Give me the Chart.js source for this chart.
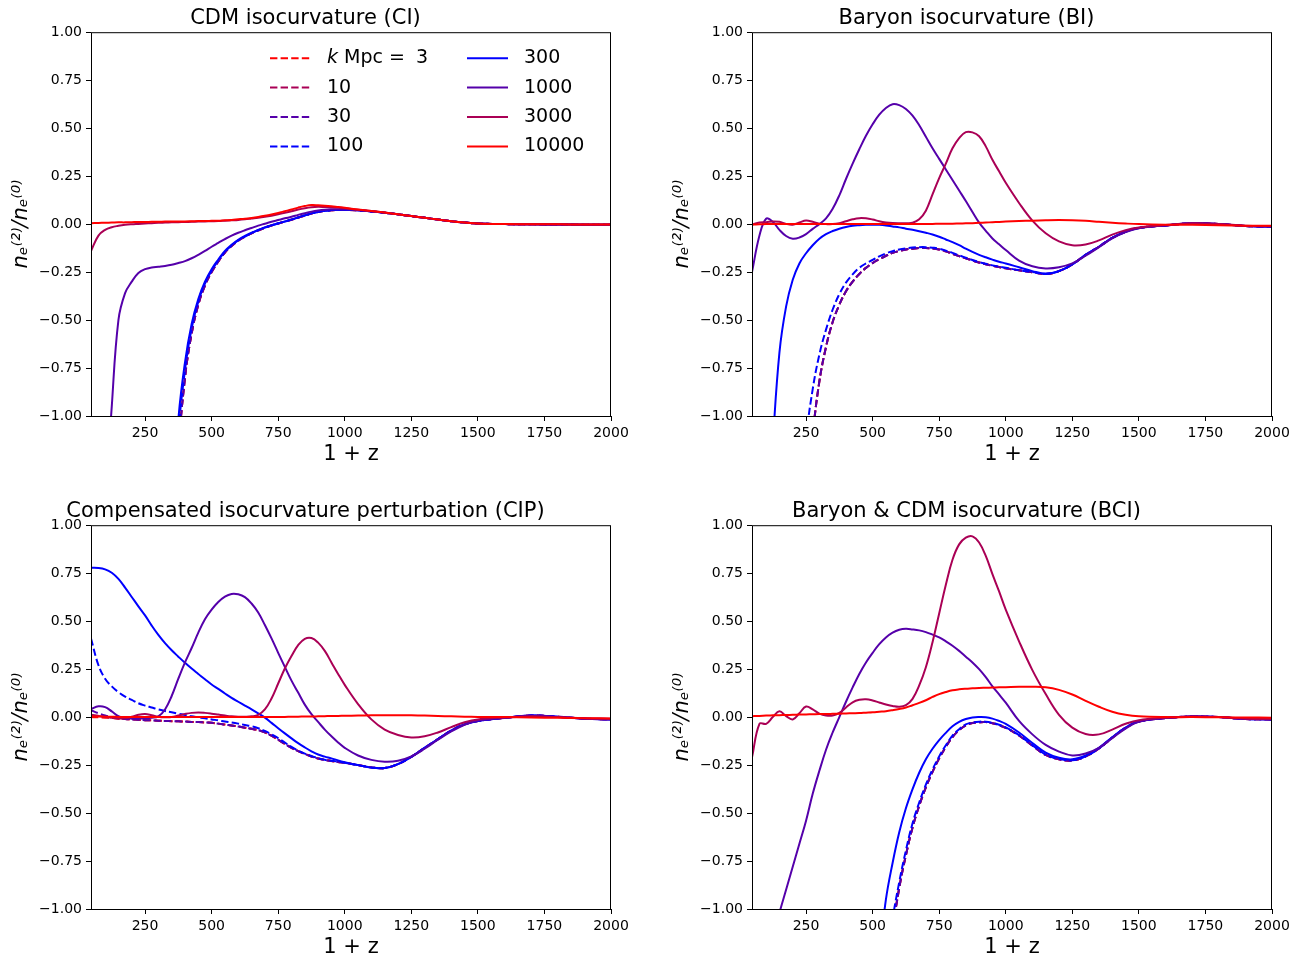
<!DOCTYPE html>
<html>
<head>
<meta charset="utf-8">
<script src="https://cdn.jsdelivr.net/npm/chart.js@4.4.1/dist/chart.umd.min.js"></script>
<style>
  html, body { margin: 0; padding: 0; background: #fff; overflow: hidden; }
  canvas { position: absolute; }
</style>
</head>
<body>
<canvas id="ci" width="640" height="493" style="left:0;top:0"></canvas>
<canvas id="bi" width="640" height="493" style="left:661px;top:0"></canvas>
<canvas id="cip" width="640" height="493" style="left:0;top:493px"></canvas>
<canvas id="bci" width="640" height="493" style="left:661px;top:493px"></canvas>
<script>
// 1+z sample points shared by every curve
const Z = [47,75,100,125,150,175,200,225,250,275,300,325,350,375,400,425,450,475,500,525,550,575,600,625,650,675,700,725,750,
  775,800,825,850,875,900,925,950,975,1000,
  1050,1100,1150,1200,1250,1300,1350,1400,1450,1500,
  1600,1700,1800,1900,2000];

const K_VALUES = ['3', '10', '30', '100', '300', '1000', '3000', '10000'];
const X_TICKS = [250, 500, 750, 1000, 1250, 1500, 1750, 2000];
const Y_TICKS = [-1, -0.75, -0.5, -0.25, 0, 0.25, 0.5, 0.75, 1];

// ---- CDM isocurvature (CI)
const CI_K3 = [null,null,null,null,null,null,null,null,null,null,null,null,-2.0,-1.2,-0.8,-0.57,-0.42,-0.32,-0.25,-0.195,-0.148,-0.114,-0.087,-0.066,-0.048,-0.033,-0.019,-0.007,0.003,
  0.013,0.023,0.034,0.045,0.055,0.063,0.069,0.072,0.074,0.074,
  0.072,0.066,0.059,0.051,0.042,0.033,0.024,0.015,0.008,0.003,
  0.0,-0.001,-0.002,-0.003,-0.003];
const CI_K10 = CI_K3;
const CI_K30 = CI_K3;
const CI_K100 = [null,null,null,null,null,null,null,null,null,null,null,null,-1.8,-1.1,-0.76,-0.545,-0.405,-0.31,-0.243,-0.19,-0.144,-0.111,-0.085,-0.065,-0.047,-0.032,-0.018,-0.007,0.003,
  0.013,0.023,0.034,0.045,0.055,0.063,0.069,0.072,0.074,0.074,
  0.072,0.066,0.059,0.051,0.042,0.033,0.024,0.015,0.008,0.003,
  0.0,-0.001,-0.002,-0.003,-0.003];
const CI_K300 = [null,null,null,null,null,null,null,null,null,null,null,-2.5,-1.6,-1.02,-0.72,-0.52,-0.39,-0.3,-0.235,-0.185,-0.14,-0.108,-0.082,-0.062,-0.045,-0.03,-0.017,-0.006,0.004,
  0.014,0.024,0.035,0.046,0.056,0.064,0.07,0.073,0.075,0.075,
  0.072,0.066,0.059,0.051,0.042,0.033,0.024,0.015,0.008,0.003,
  0.0,-0.001,-0.002,-0.003,-0.003];
const CI_K1000 = [null,-2.6,-1.5,-0.95,-0.5,-0.36,-0.3,-0.255,-0.235,-0.226,-0.222,-0.218,-0.212,-0.203,-0.193,-0.178,-0.16,-0.14,-0.118,-0.098,-0.078,-0.06,-0.045,-0.032,-0.02,-0.008,0.002,0.012,0.021,
  0.03,0.038,0.048,0.057,0.065,0.071,0.075,0.077,0.078,0.077,
  0.072,0.066,0.059,0.051,0.042,0.033,0.024,0.015,0.008,0.003,
  0.0,-0.001,-0.002,-0.003,-0.003];
const CI_K3000 = [-0.14,-0.06,-0.03,-0.016,-0.009,-0.004,-0.001,0.001,0.003,0.005,0.007,0.008,0.009,0.010,0.011,0.012,0.013,0.014,0.015,0.016,0.018,0.020,0.022,0.025,0.029,0.033,0.038,0.044,0.051,
  0.059,0.067,0.076,0.083,0.088,0.090,0.089,0.088,0.086,0.083,
  0.075,0.068,0.060,0.051,0.042,0.033,0.024,0.015,0.008,0.003,
  0.0,-0.001,-0.001,-0.002,-0.002];
const CI_K10000 = [0.005,0.006,0.007,0.008,0.009,0.009,0.010,0.011,0.011,0.012,0.012,0.013,0.013,0.014,0.014,0.015,0.016,0.016,0.017,0.018,0.020,0.022,0.025,0.028,0.032,0.037,0.043,0.050,0.058,
  0.067,0.076,0.086,0.094,0.099,0.098,0.096,0.093,0.089,0.085,
  0.076,0.068,0.060,0.051,0.042,0.033,0.024,0.015,0.008,0.003,
  0.0,-0.001,-0.001,-0.002,-0.002];

// ---- Baryon isocurvature (BI)
const BI_K3 = [null,null,null,null,null,null,null,-2.0,-1.5,-1.1,-0.82,-0.64,-0.51,-0.42,-0.35,-0.3,-0.26,-0.228,-0.203,-0.183,-0.165,-0.15,-0.14,-0.132,-0.128,-0.125,-0.125,-0.127,-0.132,
  -0.142,-0.155,-0.167,-0.178,-0.19,-0.2,-0.209,-0.217,-0.224,-0.23,
  -0.241,-0.251,-0.26,-0.245,-0.21,-0.16,-0.118,-0.072,-0.04,-0.02,
  -0.007,0.004,0.0,-0.01,-0.013];
const BI_K10 = BI_K3;
const BI_K30 = BI_K3;
const BI_K100 = [null,null,null,null,null,null,null,-1.6,-1.12,-0.86,-0.68,-0.55,-0.445,-0.365,-0.305,-0.262,-0.228,-0.205,-0.187,-0.168,-0.153,-0.141,-0.132,-0.126,-0.122,-0.12,-0.12,-0.123,-0.128,
  -0.138,-0.15,-0.163,-0.175,-0.187,-0.198,-0.207,-0.215,-0.222,-0.228,
  -0.24,-0.25,-0.26,-0.245,-0.21,-0.16,-0.118,-0.072,-0.04,-0.02,
  -0.007,0.004,0.0,-0.01,-0.013];
const BI_K300 = [null,null,-1.8,-1.15,-0.67,-0.43,-0.29,-0.205,-0.152,-0.11,-0.076,-0.052,-0.036,-0.024,-0.015,-0.009,-0.006,-0.004,-0.003,-0.004,-0.007,-0.012,-0.017,-0.024,-0.03,-0.037,-0.045,-0.054,-0.066,
  -0.08,-0.094,-0.11,-0.128,-0.145,-0.16,-0.173,-0.185,-0.196,-0.205,
  -0.225,-0.245,-0.258,-0.245,-0.21,-0.16,-0.118,-0.072,-0.04,-0.02,
  -0.007,0.004,0.0,-0.01,-0.013];
const BI_K1000 = [-0.25,-0.06,0.028,0.012,-0.03,-0.062,-0.076,-0.07,-0.052,-0.025,0.0,0.03,0.08,0.15,0.235,0.315,0.39,0.46,0.52,0.57,0.605,0.625,0.62,0.6,0.565,0.515,0.455,0.395,0.34,
  0.285,0.23,0.175,0.12,0.063,0.008,-0.035,-0.075,-0.105,-0.135,
  -0.19,-0.22,-0.231,-0.225,-0.205,-0.165,-0.12,-0.075,-0.042,-0.022,
  -0.007,0.004,0.0,-0.01,-0.013];
const BI_K3000 = [-0.002,0.008,0.010,0.014,0.012,0.001,-0.003,0.008,0.019,0.012,0.002,0.0,0.0,0.005,0.015,0.025,0.031,0.030,0.024,0.015,0.009,0.006,0.005,0.005,0.007,0.025,0.07,0.155,0.24,
  0.315,0.395,0.448,0.479,0.478,0.458,0.405,0.335,0.275,0.215,
  0.11,0.018,-0.048,-0.09,-0.11,-0.106,-0.085,-0.055,-0.032,-0.018,
  -0.005,0.004,0.001,-0.008,-0.01];
const BI_K10000 = [-0.002,-0.001,0,0,0,0,0,0,0,0,0,0,0,0,0,0,0,0,0,0,0,0,0,0,0.001,0.001,0.001,0.001,0.002,
  0.002,0.002,0.003,0.004,0.005,0.007,0.008,0.010,0.011,0.013,
  0.016,0.018,0.020,0.021,0.020,0.017,0.012,0.007,0.003,0.0,
  -0.003,-0.004,-0.006,-0.008,-0.009];

// ---- Compensated isocurvature perturbation (CIP)
const CIP_K3 = [0.0,-0.001,-0.003,-0.005,-0.008,-0.01,-0.012,-0.014,-0.016,-0.017,-0.019,-0.02,-0.021,-0.022,-0.023,-0.025,-0.026,-0.028,-0.03,-0.034,-0.039,-0.044,-0.049,-0.055,-0.061,-0.068,-0.08,-0.097,-0.118,
  -0.14,-0.16,-0.177,-0.192,-0.205,-0.216,-0.223,-0.229,-0.234,-0.238,
  -0.25,-0.262,-0.265,-0.245,-0.207,-0.16,-0.115,-0.07,-0.038,-0.02,
  -0.004,0.008,0.002,-0.008,-0.012];
const CIP_K10 = [0.012,0.007,0.002,-0.003,-0.007].concat(CIP_K3.slice(5));
const CIP_K30 = [0.036,0.02,0.008,0.0,-0.005].concat(CIP_K3.slice(5));
const CIP_K100 = [0.41,0.27,0.2,0.16,0.13,0.107,0.09,0.072,0.06,0.05,0.04,0.032,0.025,0.018,0.011,0.004,-0.001,-0.006,-0.012,-0.017,-0.023,-0.028,-0.034,-0.041,-0.048,-0.058,-0.072,-0.09,-0.11,
  -0.133,-0.155,-0.174,-0.19,-0.203,-0.214,-0.222,-0.227,-0.232,-0.238,
  -0.25,-0.262,-0.265,-0.245,-0.207,-0.16,-0.115,-0.07,-0.038,-0.02,
  -0.004,0.008,0.002,-0.008,-0.012];
const CIP_K300 = [0.778,0.777,0.77,0.752,0.72,0.675,0.626,0.577,0.53,0.477,0.428,0.385,0.348,0.315,0.283,0.253,0.225,0.197,0.17,0.147,0.123,0.1,0.08,0.06,0.04,0.019,-0.003,-0.03,-0.058,
  -0.085,-0.111,-0.136,-0.158,-0.178,-0.195,-0.206,-0.215,-0.226,-0.235,
  -0.25,-0.264,-0.265,-0.245,-0.207,-0.16,-0.115,-0.07,-0.038,-0.02,
  -0.004,0.008,0.002,-0.008,-0.012];
const CIP_K1000 = [0.042,0.056,0.052,0.03,0.005,-0.005,-0.008,-0.008,-0.007,-0.004,0.004,0.04,0.11,0.2,0.285,0.36,0.44,0.51,0.56,0.6,0.628,0.642,0.64,0.625,0.592,0.545,0.48,0.41,0.335,
  0.262,0.19,0.128,0.065,0.015,-0.025,-0.065,-0.1,-0.132,-0.16,
  -0.2,-0.223,-0.233,-0.228,-0.205,-0.165,-0.118,-0.075,-0.04,-0.018,
  -0.004,0.005,0.0,-0.008,-0.012];
const CIP_K3000 = [0.005,0.006,0.0,-0.004,-0.007,-0.006,0.002,0.012,0.016,0.01,0.002,-0.001,0.0,0.008,0.016,0.022,0.024,0.022,0.018,0.013,0.008,0.004,0.002,0.002,0.004,0.012,0.04,0.097,0.175,
  0.253,0.318,0.375,0.408,0.412,0.388,0.345,0.285,0.225,0.168,
  0.068,-0.012,-0.065,-0.093,-0.106,-0.1,-0.08,-0.052,-0.027,-0.012,
  -0.002,0.004,0.0,-0.006,-0.008];
const CIP_K10000 = [0.004,0.003,0.002,0.002,0.001,0.001,0.001,0.001,0.001,0.001,0.001,0.001,0.001,0.001,0.001,0.001,0.001,0.001,0.001,0.001,0.001,0.0,0.0,0.0,0.0,0.0,0.0,0.0,0.001,
  0.001,0.002,0.002,0.003,0.003,0.004,0.005,0.006,0.006,0.007,
  0.008,0.009,0.01,0.01,0.009,0.008,0.006,0.004,0.002,0.001,
  0.0,-0.002,-0.004,-0.006,-0.007];

// ---- Baryon & CDM isocurvature (BCI)
const BCI_K3 = [null,null,null,null,null,null,null,null,null,null,null,null,null,null,null,null,null,null,null,-2.2,-1.5,-1.12,-0.89,-0.72,-0.575,-0.462,-0.366,-0.285,-0.215,
  -0.155,-0.104,-0.068,-0.043,-0.031,-0.027,-0.026,-0.032,-0.042,-0.056,
  -0.096,-0.148,-0.197,-0.22,-0.226,-0.205,-0.163,-0.107,-0.056,-0.023,
  -0.005,0.003,0.0,-0.01,-0.012];
const BCI_K10 = BCI_K3;
const BCI_K30 = BCI_K3;
const BCI_K100 = [null,null,null,null,null,null,null,null,null,null,null,null,null,null,null,null,null,null,null,-2.0,-1.4,-1.06,-0.86,-0.695,-0.553,-0.445,-0.352,-0.273,-0.205,
  -0.147,-0.097,-0.063,-0.038,-0.028,-0.024,-0.024,-0.03,-0.04,-0.054,
  -0.094,-0.146,-0.195,-0.218,-0.225,-0.205,-0.163,-0.107,-0.056,-0.023,
  -0.005,0.003,0.0,-0.01,-0.012];
const BCI_K300 = [null,null,null,null,null,null,null,null,null,null,null,null,null,null,null,null,null,null,-1.6,-1.25,-0.95,-0.76,-0.6,-0.475,-0.375,-0.29,-0.22,-0.165,-0.12,
  -0.082,-0.048,-0.025,-0.01,-0.002,0.0,-0.001,-0.008,-0.02,-0.035,
  -0.08,-0.135,-0.185,-0.212,-0.22,-0.2,-0.16,-0.105,-0.055,-0.022,
  -0.005,0.003,0.0,-0.01,-0.012];
const BCI_K1000 = [-1.6,-1.45,-1.3,-1.15,-1.02,-0.9,-0.78,-0.66,-0.54,-0.4,-0.28,-0.17,-0.08,0.0,0.08,0.155,0.225,0.285,0.335,0.38,0.415,0.44,0.455,0.46,0.457,0.452,0.443,0.43,0.415,
  0.395,0.372,0.345,0.315,0.285,0.25,0.208,0.16,0.118,0.075,
  -0.02,-0.09,-0.145,-0.18,-0.2,-0.19,-0.16,-0.11,-0.06,-0.025,
  -0.005,0.003,0.0,-0.008,-0.012];
const BCI_K3000 = [-0.21,-0.035,-0.035,0.0,0.03,0.005,-0.012,0.02,0.055,0.04,0.018,0.008,0.008,0.022,0.05,0.077,0.09,0.093,0.087,0.076,0.066,0.058,0.054,0.062,0.095,0.165,0.26,0.39,0.54,
  0.69,0.82,0.9,0.935,0.942,0.91,0.84,0.745,0.655,0.56,
  0.395,0.245,0.12,0.012,-0.055,-0.088,-0.09,-0.065,-0.035,-0.016,
  -0.004,0.003,0.0,-0.008,-0.01];
const BCI_K10000 = [0.005,0.006,0.008,0.009,0.01,0.011,0.012,0.013,0.014,0.015,0.016,0.016,0.017,0.018,0.019,0.02,0.021,0.023,0.025,0.028,0.031,0.036,0.042,0.05,0.062,0.074,0.088,0.105,0.12,
  0.131,0.14,0.145,0.148,0.15,0.152,0.153,0.154,0.155,0.156,
  0.158,0.158,0.155,0.142,0.118,0.085,0.054,0.028,0.012,0.004,
  0.0,0.0,-0.001,-0.002,-0.003];

const FONT = 'DejaVu Sans';
const LINE_COLORS = ['#ff0000', '#aa0055', '#5500aa', '#0000ff', '#0000ff', '#5500aa', '#aa0055', '#ff0000'];
const DASH = [7.4, 3.2];

Chart.defaults.font.family = FONT;
Chart.defaults.color = '#000';

// full box round the axes, like matplotlib spines
const framePlugin = {
  id: 'frame',
  afterDraw(chart) {
    const { ctx, chartArea: a } = chart;
    ctx.save();
    ctx.strokeStyle = '#000';
    ctx.lineWidth = 1;
    ctx.strokeRect(a.left + 0.5, a.top + 0.5, a.right - a.left - 1, a.bottom - a.top);
    ctx.restore();
  }
};

// two-column legend inside the first panel
const legendPlugin = {
  id: 'kLegend',
  afterDraw(chart) {
    const { ctx, chartArea: a } = chart;
    ctx.save();
    chart.data.datasets.forEach((ds, i) => {
      const col = Math.floor(i / 4), row = i % 4;
      const y = a.top + 26 + row * 29.4;
      const x0 = a.left + (col ? 376 : 179);
      ctx.strokeStyle = ds.borderColor;
      ctx.lineWidth = 2;
      ctx.setLineDash(ds.borderDash);
      ctx.beginPath();
      ctx.moveTo(x0, y);
      ctx.lineTo(x0 + 41, y);
      ctx.stroke();
      ctx.setLineDash([]);
      ctx.fillStyle = '#000';
      ctx.textBaseline = 'middle';
      ctx.textAlign = 'left';
      let tx = x0 + 57;
      if (i === 0) {
        ctx.font = 'italic 19px "' + FONT + '"';
        ctx.fillText('k', tx, y);
        tx += ctx.measureText('k').width;
        ctx.font = '19px "' + FONT + '"';
        ctx.fillText(' Mpc =', tx, y);
        tx = x0 + 57 + 89;
      }
      ctx.font = '19px "' + FONT + '"';
      ctx.fillText(K_VALUES[i], tx, y);
    });
    ctx.restore();
  }
};

function fmtY(v) {
  return (v < 0 ? '\u2212' : '') + Math.abs(v).toFixed(2);
}

function makePanel(id, title, series, withLegend) {
  const datasets = K_VALUES.map((k, i) => ({
    label: k,
    data: Z.map((z, j) => ({ x: z, y: series[i][j] })),
    borderColor: LINE_COLORS[i],
    borderWidth: 2,
    borderDash: i < 4 ? DASH : [],
    pointRadius: 0,
    tension: 0.4,
    fill: false,
    clip: 0,
    order: K_VALUES.length - 1 - i
  }));

  const tickFont = { family: FONT, size: 14 };
  const axisGrid = { drawOnChartArea: false, drawTicks: true, tickLength: 5, color: '#000', lineWidth: 1 };

  new Chart(document.getElementById(id), {
    type: 'line',
    data: { datasets },
    options: {
      responsive: false,
      animation: false,
      events: [],
      layout: { padding: { left: 0, right: 29, top: 0, bottom: 0 } },
      plugins: {
        legend: { display: false },
        tooltip: { enabled: false },
        title: {
          display: true,
          text: title,
          color: '#000',
          font: { family: FONT, size: 21, weight: 'normal' },
          padding: { top: 5.5, bottom: 1.5 }
        }
      },
      scales: {
        x: {
          type: 'linear',
          min: 47,
          max: 2000,
          afterBuildTicks: s => { s.ticks = X_TICKS.map(v => ({ value: v })); },
          afterFit: s => { s.height = 77; },
          grid: axisGrid,
          border: { display: false },
          ticks: { font: tickFont, color: '#000', padding: 4, maxRotation: 0, autoSkip: false, callback: v => String(v) },
          title: {
            display: true,
            text: '1 + z',
            color: '#000',
            font: { family: FONT, size: 21 },
            padding: { top: 0, bottom: 26 }
          }
        },
        y: {
          type: 'linear',
          min: -1,
          max: 1,
          afterBuildTicks: s => { s.ticks = Y_TICKS.map(v => ({ value: v })); },
          afterFit: s => { s.width = 91; },
          grid: axisGrid,
          border: { display: false },
          ticks: { font: tickFont, color: '#000', padding: 4, callback: v => fmtY(v) },
          title: {
            display: true,
            text: 'n\u2091\u207d\u00b2\u207e/n\u2091\u207d\u2070\u207e',
            color: '#000',
            font: { family: FONT, size: 21, style: 'italic' },
            padding: { top: 9, bottom: 0 }
          }
        }
      }
    },
    plugins: withLegend ? [framePlugin, legendPlugin] : [framePlugin]
  });
}

makePanel('ci', 'CDM isocurvature (CI)',
  [CI_K3, CI_K10, CI_K30, CI_K100, CI_K300, CI_K1000, CI_K3000, CI_K10000], true);
makePanel('bi', 'Baryon isocurvature (BI)',
  [BI_K3, BI_K10, BI_K30, BI_K100, BI_K300, BI_K1000, BI_K3000, BI_K10000], false);
makePanel('cip', 'Compensated isocurvature perturbation (CIP)',
  [CIP_K3, CIP_K10, CIP_K30, CIP_K100, CIP_K300, CIP_K1000, CIP_K3000, CIP_K10000], false);
makePanel('bci', 'Baryon & CDM isocurvature (BCI)',
  [BCI_K3, BCI_K10, BCI_K30, BCI_K100, BCI_K300, BCI_K1000, BCI_K3000, BCI_K10000], false);
</script>
</body>
</html>
